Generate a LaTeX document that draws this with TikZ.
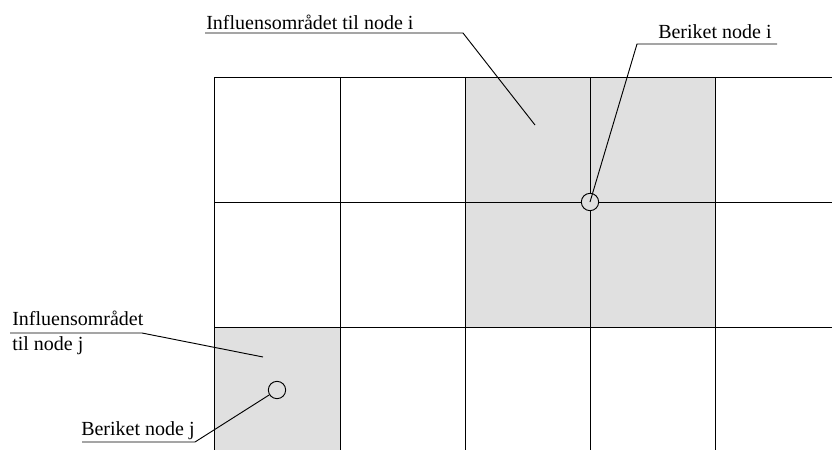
\documentclass[tikz,border=0pt]{standalone}
\usepackage{fontspec}
\setmainfont{Liberation Serif}

\tikzset{
	lbl/.style={font=\fontsize{15}{18}\selectfont, inner sep=0pt, anchor=base west},
	enrnode/.style={draw, circle, fill=black!12, minimum size=13pt, inner sep=0pt, line width=0.7pt},
	leader/.style={line width=0.7pt}
}

\begin{document}
\begin{tikzpicture}[x=0.75pt,y=-0.75pt]
\useasboundingbox (0,0) rectangle (832,450);

% influence areas
\fill[black!12] (465,77) rectangle (715,327);
\fill[black!12] (214,327) rectangle (340,450);

% mesh
\foreach \x in {214,340,465,590,715} {
	\draw[line width=0.65pt] (\x,77) -- (\x,450);
}
\foreach \y in {77,202,327} {
	\draw[line width=0.65pt] (214,\y) -- (832,\y);
}

% enriched nodes
\node[enrnode] (nodeI) at (590,202) {};
\node[enrnode] (nodeJ) at (277,390) {};

% labels
\node[lbl] (infI) at (206,29) {Influensområdet til node i};
\node[lbl] (berI) at (658,38) {Beriket node i};
\node[lbl] (infJa) at (12,325) {Influensområdet};
\node[lbl] (infJb) at (12,350) {til node j};
\node[lbl] (berJ) at (81,435) {Beriket node j};

\coordinate (ulIa) at (205,33);
\coordinate (ulIb) at (463,33);
\coordinate (tipI) at (535,125);
\coordinate (ulBa) at (777,44);
\coordinate (ulBb) at (637,44);
\coordinate (ulJa) at (10,333);
\coordinate (ulJb) at (142,333);
\coordinate (tipJ) at (263,357);
\coordinate (ulCa) at (82,442);
\coordinate (ulCb) at (195,442);

% leaders
\draw[leader] (ulIa) -- (ulIb) -- (tipI);
\draw[leader] (ulBa) -- (ulBb) -- (nodeI.center);
\draw[leader] (ulJa) -- (ulJb) -- (tipJ);
\draw[leader] (ulCa) -- (ulCb) -- (nodeJ);
\end{tikzpicture}
\end{document}
